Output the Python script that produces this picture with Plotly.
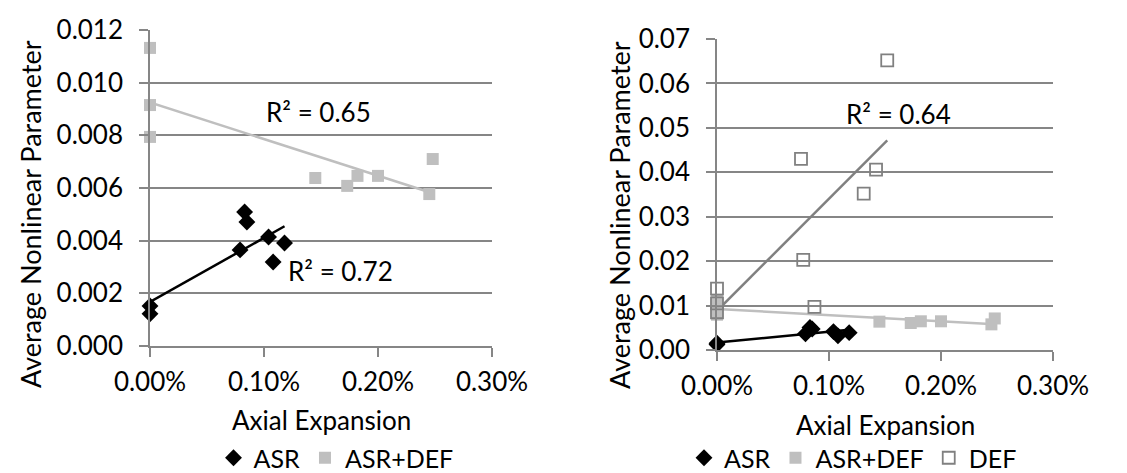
import plotly.graph_objects as go
import numpy as np

# ---- data (x = axial expansion as fraction, y = average nonlinear parameter)
asr_x = [0.0, 0.0, 0.00079, 0.00083, 0.00085, 0.00104, 0.00108, 0.00118]
asr_y = [0.00152, 0.00122, 0.00365, 0.00509, 0.00471, 0.00414, 0.00319, 0.00391]

asrdef_x = [0.0, 0.0, 0.0, 0.00145, 0.00173, 0.00182, 0.00200, 0.00245, 0.00248]
asrdef_y = [0.01132, 0.00915, 0.00794, 0.00638, 0.00608, 0.00646, 0.00646, 0.00577, 0.00710]

def_x = [0.0, 0.0, 0.0, 0.00075, 0.00077, 0.00087, 0.00131, 0.00142, 0.00152]
def_y = [0.0138, 0.0105, 0.0085, 0.0430, 0.0203, 0.0097, 0.0352, 0.0406, 0.0652]

r2_labels = ["R² = 0.65", "R² = 0.72", "R² = 0.64"]
x_ticks = [0.0, 0.001, 0.002, 0.003]

W, H = 1127, 473
FONT = "Lato"
GRID = "#868686"
C_ASR = "#000000"
C_AD = "#bfbfbf"
C_DEF = "#808080"

# plot-area pixel boxes (left, right, top, bottom)
BOX1 = (142, 484, 22, 338)
BOX2 = (709, 1045, 31, 342)
XR = [0, 0.003]
YR1 = [0, 0.012]
YR2 = [0, 0.07]


def trend(xs, ys):
    xs = np.asarray(xs, float)
    ys = np.asarray(ys, float)
    m, b = np.polyfit(xs, ys, 1)
    xx = np.array([xs.min(), xs.max()])
    return xx, m * xx + b


fig = go.Figure()

for xa, ya, leg, show_def in [("x", "y", "legend", False), ("x2", "y2", "legend2", True)]:
    tx, ty = trend(asrdef_x, asrdef_y)
    fig.add_trace(go.Scatter(x=tx, y=ty, mode="lines", line=dict(color=C_AD, width=2.5),
                             showlegend=False, xaxis=xa, yaxis=ya, hoverinfo="skip"))
    tx, ty = trend(asr_x, asr_y)
    fig.add_trace(go.Scatter(x=tx, y=ty, mode="lines", line=dict(color=C_ASR, width=2.5),
                             showlegend=False, xaxis=xa, yaxis=ya, hoverinfo="skip"))
    if show_def:
        tx, ty = trend(def_x, def_y)
        fig.add_trace(go.Scatter(x=tx, y=ty, mode="lines", line=dict(color=C_DEF, width=2.5),
                                 showlegend=False, xaxis=xa, yaxis=ya, hoverinfo="skip"))
    fig.add_trace(go.Scatter(x=asr_x, y=asr_y, mode="markers", name="ASR",
                             marker=dict(symbol="diamond", size=13, color=C_ASR),
                             xaxis=xa, yaxis=ya, legend=leg, cliponaxis=False))
    fig.add_trace(go.Scatter(x=asrdef_x, y=asrdef_y, mode="markers", name="ASR+DEF",
                             marker=dict(symbol="square", size=12, color=C_AD),
                             xaxis=xa, yaxis=ya, legend=leg, cliponaxis=False))
    if show_def:
        fig.add_trace(go.Scatter(x=def_x, y=def_y, mode="markers", name="DEF",
                                 marker=dict(symbol="square-open", size=12, color=C_DEF,
                                             line=dict(width=1.8, color=C_DEF)),
                                 xaxis=xa, yaxis=ya, legend=leg, cliponaxis=False))

tickfont = dict(family=FONT, size=26, color="#000000")
common_x = dict(range=XR, tickvals=x_ticks, tickformat=".2%", showgrid=False,
                showline=True, linecolor=GRID, linewidth=1.5, ticks="outside", ticklen=9,
                tickcolor=GRID, tickwidth=1.5, zeroline=False, tickfont=tickfont,
                ticklabelstandoff=3, automargin=False)
common_y = dict(showgrid=True, gridcolor=GRID, gridwidth=1.5, showline=True, linecolor=GRID,
                linewidth=1.5, ticks="outside", ticklen=9, tickcolor=GRID, tickwidth=1.5,
                zeroline=False, tickfont=tickfont, ticklabelstandoff=11, automargin=False)

legfont = dict(family=FONT, size=25, color="#000000")
fig.update_layout(
    width=W, height=H,
    margin=dict(l=0, r=0, t=0, b=0),
    paper_bgcolor="white", plot_bgcolor="white",
    font=dict(family=FONT, color="#000000"),
    xaxis=dict(domain=[BOX1[0] / W, BOX1[1] / W], anchor="y", **common_x),
    yaxis=dict(domain=[1 - BOX1[3] / H, 1 - BOX1[2] / H], anchor="x", range=YR1, dtick=0.002,
               tickformat=".3f", **common_y),
    xaxis2=dict(domain=[BOX2[0] / W, BOX2[1] / W], anchor="y2", **common_x),
    yaxis2=dict(domain=[1 - BOX2[3] / H, 1 - BOX2[2] / H], anchor="x2", range=YR2, dtick=0.01,
                tickformat=".2f", **common_y),
    legend=dict(orientation="h", x=328 / W, y=0.0, xanchor="center", yanchor="bottom",
                font=legfont, bgcolor="rgba(0,0,0,0)", itemwidth=30),
    legend2=dict(orientation="h", x=845 / W, y=0.0, xanchor="center", yanchor="bottom",
                 font=legfont, bgcolor="rgba(0,0,0,0)", itemwidth=30),
    showlegend=True,
)

ann_specs = [
    (r2_labels[0], 310, 104, 0, 26),
    (r2_labels[1], 332, 263, 0, 26),
    (r2_labels[2], 890, 106, 0, 26),
    ("Axial Expansion", 313, 412, 0, 26),
    ("Axial Expansion", 877, 417, 0, 26),
    ("Average Nonlinear Parameter", 22, 206, -90, 27),
    ("Average Nonlinear Parameter", 611, 207, -90, 27),
]
for text, px_, py_, ang, fs in ann_specs:
    fig.add_annotation(text=text, x=px_ / W, y=1 - py_ / H, xref="paper", yref="paper",
                       xanchor="center", yanchor="middle", showarrow=False,
                       font=dict(family=FONT, size=fs, color="#000000"), textangle=ang)

fig.write_html("out.html")
